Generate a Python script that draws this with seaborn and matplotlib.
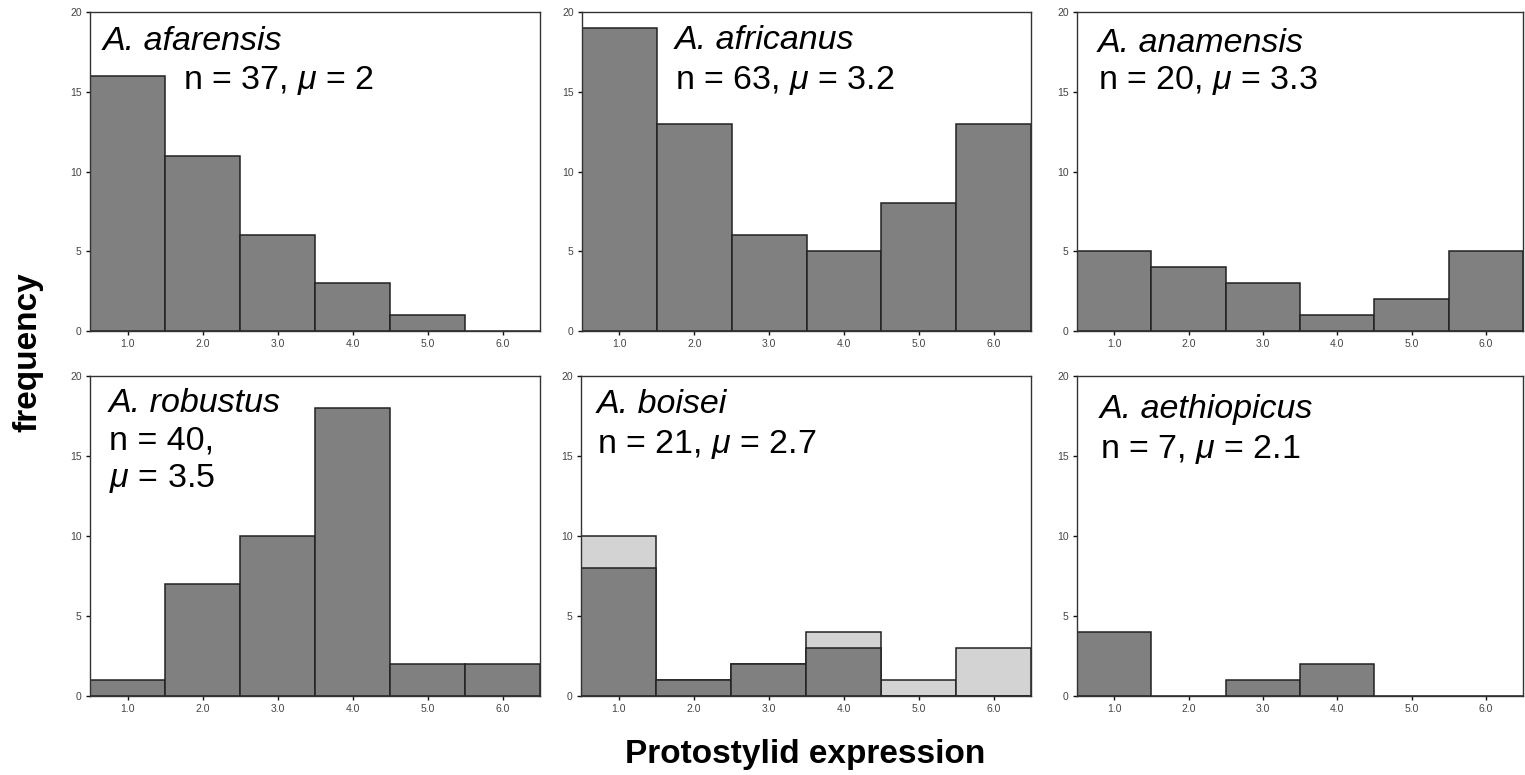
import numpy as np
import pandas as pd
import matplotlib.pyplot as plt
import seaborn as sns

# protostylid score categories and counts per species
scores = [1, 2, 3, 4, 5, 6]
score_labels = ["1.0", "2.0", "3.0", "4.0", "5.0", "6.0"]

afarensis = [16, 11, 6, 3, 1, 0]
africanus = [19, 13, 6, 5, 8, 13]
anamensis = [5, 4, 3, 1, 2, 5]
robustus = [1, 7, 10, 18, 2, 2]
boisei_dark = [8, 1, 2, 3, 0, 0]
boisei_light = [2, 0, 0, 1, 1, 3]
aethiopicus = [4, 0, 1, 2, 0, 0]

names = ["A. afarensis", "A. africanus", "A. anamensis",
         "A. robustus", "A. boisei", "A. aethiopicus"]
stats = ["n = 37, $\\mu$ = 2", "n = 63, $\\mu$ = 3.2", "n = 20, $\\mu$ = 3.3",
         "n = 40,\n$\\mu$ = 3.5", "n = 21, $\\mu$ = 2.7", "n = 7, $\\mu$ = 2.1"]

sns.set_style("white")
plt.rcParams["font.family"] = ["Liberation Sans", "DejaVu Sans"]
plt.rcParams["mathtext.fontset"] = "custom"
plt.rcParams["mathtext.rm"] = "Liberation Sans"
plt.rcParams["mathtext.it"] = "Liberation Sans:italic"

W, H = 1525, 775
fig = plt.figure(figsize=(W / 100, H / 100), dpi=100)

# axes boxes in pixels: left, top, width, height
boxes = [(90, 12, 450, 319), (582, 12, 449, 319), (1077, 12, 446, 319),
         (90, 376, 450, 320), (581, 376, 450, 320), (1077, 376, 446, 320)]
axes = [fig.add_axes([l / W, 1 - (t + h) / H, w / W, h / H]) for l, t, w, h in boxes]

dark = "#808080"
light = "#d3d3d3"
edge = "#222222"

def bars(ax, counts, color):
    df = pd.DataFrame({"score": scores, "count": counts})
    sns.histplot(data=df, x="score", weights="count", discrete=True,
                 color=color, alpha=1, edgecolor=edge, linewidth=1.1, ax=ax)

bars(axes[0], afarensis, dark)
bars(axes[1], africanus, dark)
bars(axes[2], anamensis, dark)
bars(axes[3], robustus, dark)
bars(axes[4], np.add(boisei_dark, boisei_light), light)
bars(axes[4], boisei_dark, dark)
bars(axes[5], aethiopicus, dark)

# text anchor (x, baseline y) in data units: name line, stats line
text_pos = [((0.67, 17.6), (1.74, 15.2)),
            ((1.74, 17.7), (1.74, 15.2)),
            ((0.78, 17.5), (0.78, 15.2)),
            ((0.75, 17.75), (0.75, 15.4)),
            ((0.71, 17.7), (0.71, 15.2)),
            ((0.81, 17.4), (0.81, 14.9))]
fs = 24.5

for i, ax in enumerate(axes):
    ax.set_xlim(0.5, 6.5)
    ax.set_ylim(0, 20)
    ax.set_xticks(scores)
    ax.set_xticklabels(score_labels)
    ax.set_yticks([0, 5, 10, 15, 20])
    ax.set_xlabel("")
    ax.set_ylabel("")
    ax.tick_params(direction="out", length=3, width=1, labelsize=7.5,
                   labelcolor="#444444", color="#111111", pad=3,
                   bottom=True, left=True)
    for s in ax.spines.values():
        s.set_color("#333333")
        s.set_linewidth(1.0)
    (nx, ny), (sx, sy) = text_pos[i]
    ax.text(nx, ny, names[i], fontsize=fs, style="italic", va="baseline", color="black")
    if "\n" in stats[i]:
        first, second = stats[i].split("\n")
        ax.text(sx, sy, first, fontsize=fs, va="baseline", color="black")
        ax.text(sx, sy - 2.35, second, fontsize=fs, va="baseline", color="black")
    else:
        ax.text(sx, sy, stats[i], fontsize=fs, va="baseline", color="black")

fig.text(28 / W, 1 - 352 / H, "frequency", rotation=90, fontsize=24,
         fontweight="bold", ha="center", va="center", color="black")
fig.text(805 / W, 1 - 763 / H, "Protostylid expression", fontsize=24,
         fontweight="bold", ha="center", va="baseline", color="black")

fig.savefig("out.png", dpi=100)
